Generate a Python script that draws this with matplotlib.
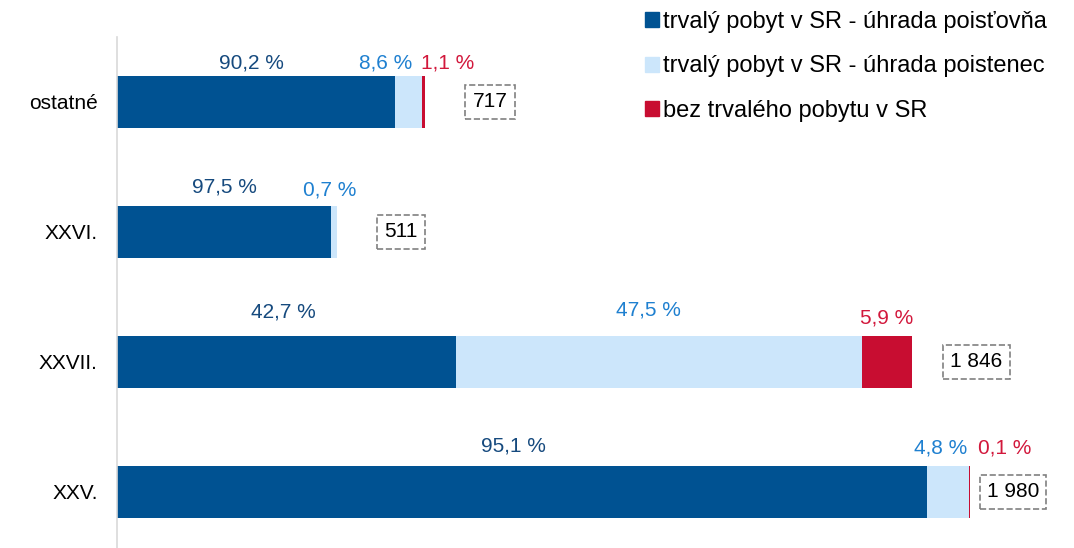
import matplotlib.pyplot as plt
from matplotlib.patches import Patch

plt.rcParams['font.family'] = ['Liberation Sans', 'DejaVu Sans']

# values (counts per segment)
categories = ['ostatné', 'XXVI.', 'XXVII.', 'XXV.']
poistovna = [646, 497, 787, 1880]
poistenec = [61, 14, 942, 97]
bez_pobytu = [9, 0, 116, 3]
totals = [717, 511, 1846, 1980]

# percentage labels shown above the segments
pct_poistovna = [90.2, 97.5, 42.7, 95.1]
pct_poistenec = [8.6, 0.7, 47.5, 4.8]
pct_bez = [1.1, None, 5.9, 0.1]

series_names = ['trvalý pobyt v SR - úhrada poisťovňa',
                'trvalý pobyt v SR - úhrada poistenec',
                'bez trvalého pobytu v SR']

bar_colors = ['#005292', '#cce6fb', '#c80d31']
text_colors = ['#164a7e', '#1f80d0', '#d2183c']

# label nudges in pixels (x shift, height above bar top)
label_dx = [[-5, 0, -3, -9], [-23, -4, -11, -7], [24, 0, 0, 35]]
label_dy = [[7, 13, 18, 14], [7, 10, 20, 12], [7, 0, 12, 12]]
total_dx = [64, 64, 64, 43]

fig = plt.figure(figsize=(10.74, 5.48), dpi=100)
ax = fig.add_axes([117 / 1074, 0, 1 - 117 / 1074, 1 - 37 / 548])

data = [poistovna, poistenec, bez_pobytu]
pcts = [pct_poistovna, pct_poistenec, pct_bez]
ypos = list(range(len(categories)))
left = [0] * len(categories)
h = 0.4
for s in range(3):
    ax.barh(ypos, data[s], left=left, height=h, color=bar_colors[s], label=series_names[s],
            linewidth=0)
    for j in ypos:
        p = pcts[s][j]
        if p is not None:
            xc = left[j] + data[s][j] / 2
            txt = f'{p:.1f} %'.replace('.', ',')
            ax.annotate(txt, xy=(xc, j - h / 2), xytext=(label_dx[s][j], label_dy[s][j]),
                        textcoords='offset pixels', ha='center', va='baseline',
                        fontsize=15, color=text_colors[s])
    left = [left[j] + data[s][j] for j in ypos]

for j in ypos:
    txt = f'{totals[j]:,}'.replace(',', ' ')
    ax.annotate(txt, xy=(totals[j], j), xytext=(total_dx[j], 0), textcoords='offset pixels',
                ha='center', va='center', fontsize=15, color='black',
                bbox=dict(boxstyle='square,pad=0.35', fc='white', ec='#808080',
                          ls='--', lw=1.2))

ax.set_xlim(0, 957 / (853 / 1980))
ax.set_ylim(3.431, -0.5)
ax.set_yticks(ypos, categories)
ax.tick_params(axis='y', length=0, pad=14, labelsize=15)
ax.set_xticks([])
for sp in ['top', 'right', 'bottom']:
    ax.spines[sp].set_visible(False)
ax.spines['left'].set_color('#d9d9d9')
ax.spines['left'].set_linewidth(1.2)

handles = [Patch(color=c) for c in bar_colors]
fig.legend(handles, series_names, loc='upper left', bbox_to_anchor=(645 / 1074, 1 - 11 / 548),
           frameon=False, fontsize=17, handlelength=0.59, handleheight=0.59,
           handletextpad=0.17, labelspacing=0.95, borderpad=0, borderaxespad=0)

fig.savefig('out.png', dpi=100)
